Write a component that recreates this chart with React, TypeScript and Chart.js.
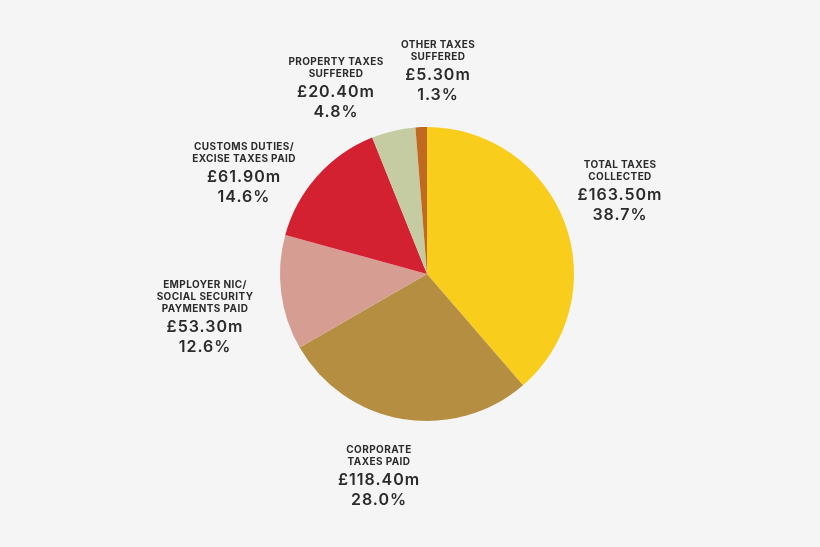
import React, { useEffect, useRef } from "react";
import { Chart, registerables } from "chart.js";

Chart.register(...registerables);

const categories = [
  ["TOTAL TAXES", "COLLECTED"],
  ["CORPORATE", "TAXES PAID"],
  ["EMPLOYER NIC/", "SOCIAL SECURITY", "PAYMENTS PAID"],
  ["CUSTOMS DUTIES/", "EXCISE TAXES PAID"],
  ["PROPERTY TAXES", "SUFFERED"],
  ["OTHER TAXES", "SUFFERED"],
];
const values = [163.5, 118.4, 53.3, 61.9, 20.4, 5.3];
const valueLabels = ["£163.50m", "£118.40m", "£53.30m", "£61.90m", "£20.40m", "£5.30m"];
const percentLabels = ["38.7%", "28.0%", "12.6%", "14.6%", "4.8%", "1.3%"];
const colors = ["#f9cd1c", "#b68e42", "#d69d93", "#d32132", "#c6cca1", "#c06921"];

// label block anchor (top line centre) offsets from pie centre
const labelOffsets = [
  [193, -109],
  [-48, 176],
  [-222, 11],
  [-183, -127],
  [-91, -212],
  [11, -229],
];

const labelPlugin = {
  id: "sliceLabels",
  afterDraw(chart: any) {
    const arc = chart.getDatasetMeta(0).data[0];
    if (!arc) return;
    const cx = arc.x;
    const cy = arc.y;
    const ctx = chart.ctx;
    ctx.save();
    ctx.fillStyle = "#2b2b2b";
    ctx.textAlign = "center";
    ctx.textBaseline = "middle";
    categories.forEach((lines, i) => {
      const x = cx + labelOffsets[i][0];
      let y = cy + labelOffsets[i][1];
      ctx.font = "bold 10px Inter, 'DejaVu Sans', sans-serif";
      (ctx as any).letterSpacing = "0.4px";
      lines.forEach((ln) => {
        ctx.fillText(ln, x, y);
        y += 12;
      });
      y += 6;
      ctx.font = "600 16px Inter, 'DejaVu Sans', sans-serif";
      (ctx as any).letterSpacing = "1px";
      ctx.fillText(valueLabels[i], x, y);
      y += 20;
      ctx.fillText(percentLabels[i], x, y);
    });
    ctx.restore();
  },
};

export default function App() {
  const ref = useRef<HTMLCanvasElement>(null);
  useEffect(() => {
    document.body.style.margin = "0";
    const chart = new Chart(ref.current!, {
      type: "pie",
      data: {
        labels: categories.map((c) => c.join(" ")),
        datasets: [
          {
            data: values,
            backgroundColor: colors,
            borderWidth: 0,
          },
        ],
      },
      options: {
        animation: false,
        responsive: false,
        layout: { padding: { left: 280, right: 246, top: 127, bottom: 126 } },
        plugins: { legend: { display: false }, tooltip: { enabled: false } },
      },
      plugins: [labelPlugin],
    });
    return () => chart.destroy();
  }, []);
  return (
    <div style={{ position: "absolute", left: 0, top: 0, width: 820, height: 547, background: "#f5f5f5" }}>
      <canvas ref={ref} width={820} height={547} style={{ width: 820, height: 547 }} />
    </div>
  );
}
